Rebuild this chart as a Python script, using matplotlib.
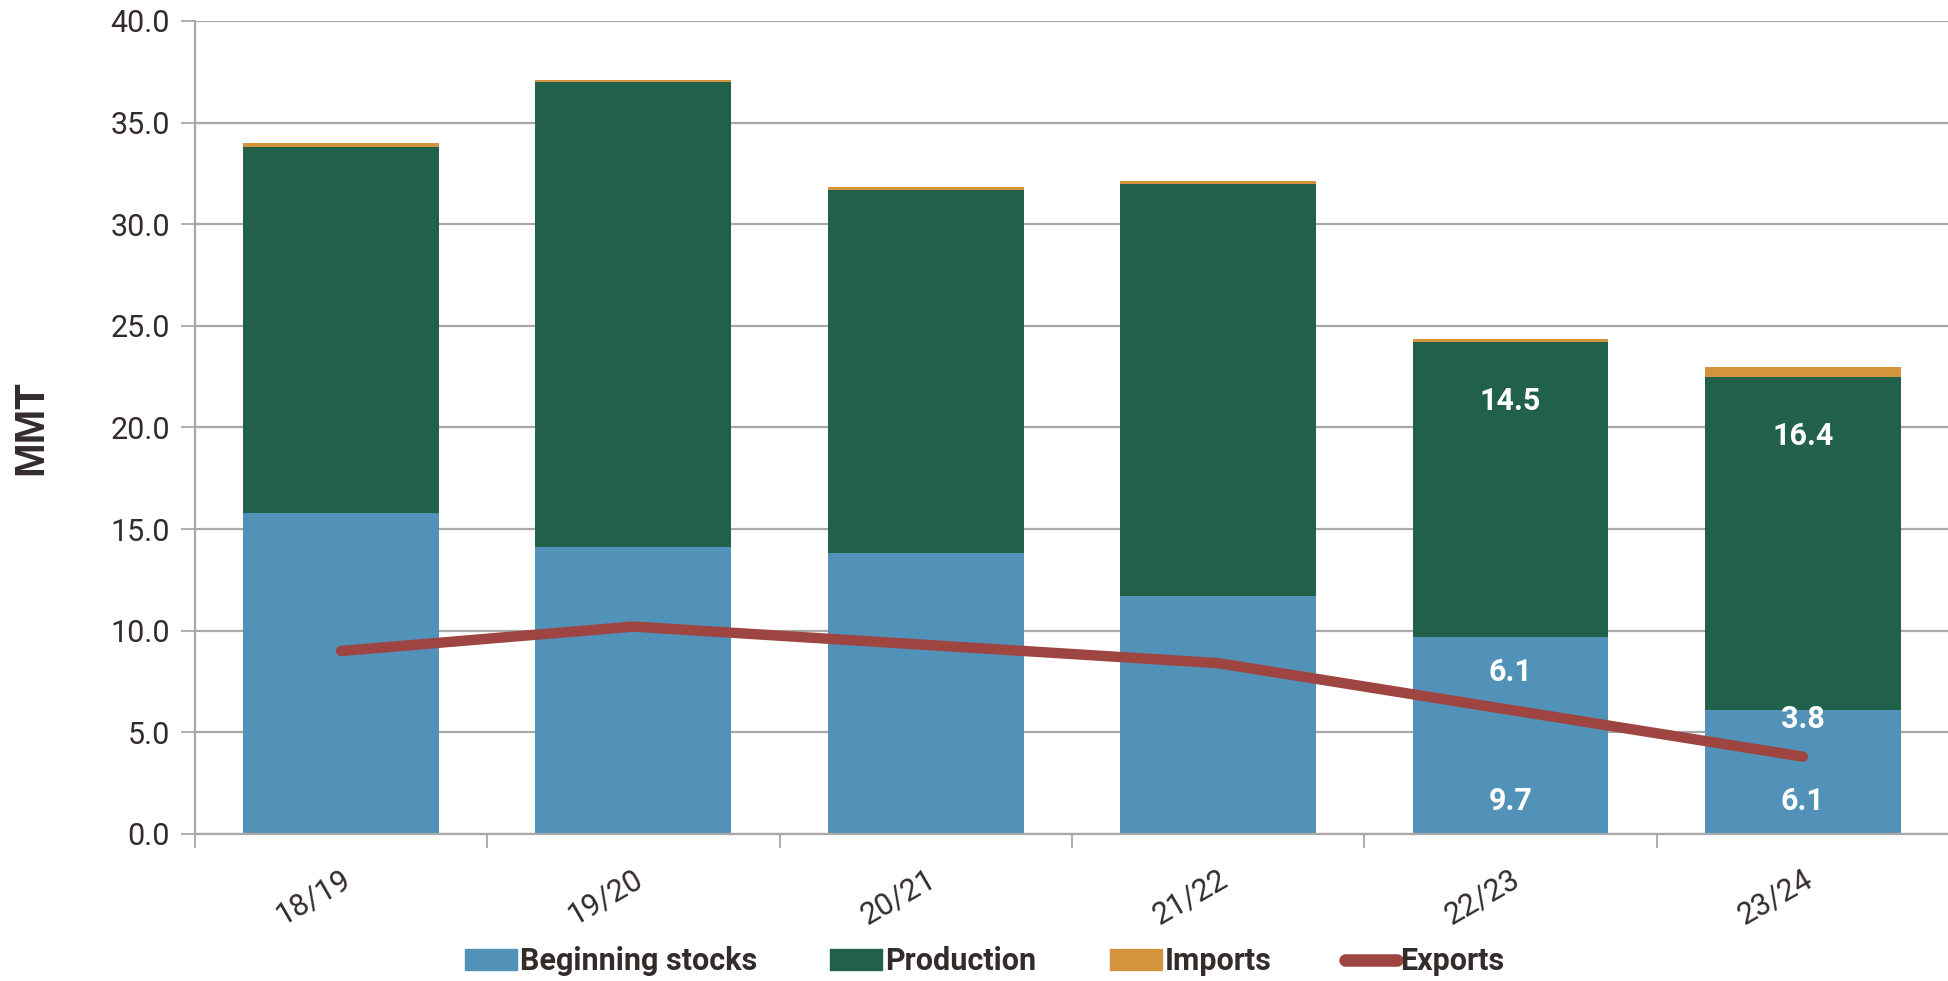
import matplotlib
matplotlib.use("Agg")
import matplotlib.pyplot as plt
from matplotlib.patches import Patch
from matplotlib.lines import Line2D
import numpy as np

years = ['18/19', '19/20', '20/21', '21/22', '22/23', '23/24']
beginning = [15.8, 14.1, 13.8, 11.7, 9.7, 6.1]
production = [18.0, 22.9, 17.9, 20.3, 14.5, 16.4]
imports = [0.2, 0.12, 0.15, 0.15, 0.15, 0.45]
exports = [9.0, 10.2, 9.3, 8.4, 6.1, 3.8]

c_beg = '#5292b8'
c_prod = '#216049'
c_imp = '#d4943e'
c_exp = '#9e4541'
c_text = '#332c2a'
c_grid = '#a8a8a8'

narrow = ['Liberation Sans Narrow', 'Roboto', 'DejaVu Sans']

fig = plt.figure(figsize=(19.49, 9.81), dpi=100)
ax = fig.add_axes([0.1, 0.15, 0.9, 0.8286])

x = np.arange(len(years))
w = 0.67
beg = np.array(beginning)
prod = np.array(production)
ax.bar(x, beg, w, color=c_beg, zorder=2)
ax.bar(x, prod, w, bottom=beg, color=c_prod, zorder=2)
ax.bar(x, imports, w, bottom=beg + prod, color=c_imp, zorder=2)
ax.plot(x, exports, color=c_exp, lw=7.5, solid_capstyle='round', solid_joinstyle='round', zorder=3)

# data labels on the last two years
for i in [4, 5]:
    ax.text(x[i], 1.6, f'{beginning[i]:.1f}', ha='center', va='center', color='white',
            fontsize=22, fontweight='bold', family=narrow, zorder=4)
    ax.text(x[i], beg[i] + prod[i] - 2.9, f'{production[i]:.1f}', ha='center', va='center', color='white',
            fontsize=22, fontweight='bold', family=narrow, zorder=4)
    ax.annotate(f'{exports[i]:.1f}', (x[i], exports[i]), xytext=(0, 27), textcoords='offset points',
                ha='center', va='center', color='white', fontsize=22, fontweight='bold',
                family=narrow, zorder=4)

ax.set_xlim(-0.5, 5.5)
ax.set_ylim(0, 40)
ax.set_yticks(np.arange(0, 40.1, 5))
ax.set_yticklabels([f'{v:.1f}' for v in np.arange(0, 40.1, 5)], fontsize=22, color=c_text, family='Roboto')
ax.yaxis.grid(True, color=c_grid, lw=1.6, zorder=0)
ax.set_axisbelow(True)

ax.set_xticks(np.arange(-0.5, 5.6, 1))
ax.set_xticklabels([])
ax.set_xticks(x, minor=True)
ax.set_xticklabels(years, minor=True, rotation=30, ha='right', va='top', rotation_mode='anchor',
                   fontsize=22, color=c_text, family='Roboto')
ax.tick_params(axis='x', which='minor', length=0, pad=22)
ax.tick_params(axis='x', which='major', length=10, width=1.3, color=c_grid)
ax.tick_params(axis='y', length=10, width=1.3, color=c_grid, pad=8)

for s in ['top', 'right']:
    ax.spines[s].set_visible(False)
ax.spines['left'].set_color(c_grid)
ax.spines['bottom'].set_color(c_grid)
ax.spines['left'].set_linewidth(1.6)
ax.spines['bottom'].set_linewidth(1.6)

fig.text(0.016, 0.564, 'MMT', rotation=90, ha='center', va='center', fontsize=30,
         fontweight='bold', color=c_text, family=['Liberation Sans', 'DejaVu Sans'])

handles = [Patch(color=c_beg), Patch(color=c_prod), Patch(color=c_imp),
           Line2D([0], [0], color=c_exp, lw=9, solid_capstyle='round')]
labels = ['Beginning stocks', 'Production', 'Imports', 'Exports']
fig.legend(handles, labels, loc='center', bbox_to_anchor=(0.505, 0.02), ncol=4, frameon=False,
           prop={'family': narrow, 'weight': 'bold', 'size': 22}, handlelength=1.7,
           handleheight=0.65, handletextpad=0.1, columnspacing=2.4, labelcolor=c_text)

fig.savefig('out.png', dpi=100)
